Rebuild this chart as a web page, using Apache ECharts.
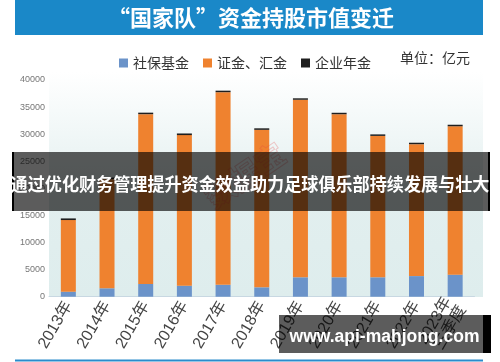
<!DOCTYPE html>
<html><head><meta charset="utf-8">
<script src="https://cdn.jsdelivr.net/npm/echarts@6/dist/echarts.min.js"></script>
<style>html,body{margin:0;padding:0;background:#fff}#c{width:500px;height:362px}</style>
</head><body><div id="c"></div>
<script>
const categories = ['2013年','2014年','2015年','2016年','2017年','2018年','2019年','2020年','2021年','2022年','2023年\n三季度'];
const socialFund = [920, 1550, 2340, 2030, 2200, 1730, 3580, 3580, 3580, 3800, 4060];
const csfHuijin = [13230, 20150, 31350, 27800, 35550, 29070, 32770, 30100, 26100, 24350, 27400];
const annuity = [300, 300, 280, 300, 280, 280, 270, 270, 280, 270, 280];
const yTicks = {min: 0, max: 40000, interval: 5000};
const seriesNames = ['社保基金', '证金、汇金', '企业年金'];

const cjk = '"Noto Sans CJK SC", "Liberation Sans", sans-serif';
const chart = echarts.init(document.getElementById('c'), null, {renderer: 'canvas'});
chart.setOption({
  animation: false,
  backgroundColor: '#ffffff',
  grid: {left: 49, right: 25.5, top: 80, bottom: 65.3, containLabel: false},
  legend: {
    data: seriesNames, left: 114, top: 51, itemWidth: 9, itemHeight: 9, itemGap: 14, icon: 'rect',
    textStyle: {fontSize: 14, color: '#333', fontFamily: cjk}
  },
  xAxis: {
    type: 'category', data: categories,
    axisTick: {show: false},
    axisLine: {lineStyle: {color: '#c8d8e2', width: 1}},
    axisLabel: {interval: 0, rotate: 60, fontSize: 16, color: '#444', margin: 6, lineHeight: 17,
      fontFamily: '"Liberation Sans", "Noto Sans CJK SC", sans-serif'}
  },
  yAxis: {
    type: 'value', min: yTicks.min, max: yTicks.max, interval: yTicks.interval,
    axisLine: {show: false}, axisTick: {show: false}, splitLine: {show: false},
    axisLabel: {fontSize: 9, color: '#777', margin: 4, fontFamily: '"Liberation Sans", sans-serif',
      formatter: function (v) { return String(v); }}
  },
  series: [
    {name: seriesNames[0], type: 'bar', stack: 'a', data: socialFund, barWidth: 15, itemStyle: {color: '#6b93c9'}},
    {name: seriesNames[1], type: 'bar', stack: 'a', data: csfHuijin, barWidth: 15, itemStyle: {color: '#ef822f'}},
    {name: seriesNames[2], type: 'bar', stack: 'a', data: annuity, barWidth: 15, itemStyle: {color: '#1e1e1e'}}
  ],
  graphic: [
    {type: 'rect', z: -5, shape: {x: 49, y: 72, width: 434, height: 225},
      style: {fill: new echarts.graphic.LinearGradient(0, 0, 0, 1, [
        {offset: 0, color: '#ffffff'}, {offset: 0.55, color: '#e2efef'}, {offset: 1, color: '#deeded'}])}},
    {type: 'rect', z: 5, shape: {x: 15, y: 0, width: 468, height: 35}, style: {fill: '#1a88c8'}},
    {type: 'text', z: 6, x: 251, y: 18, style: {text: '“国家队”资金持股市值变迁', fill: '#ffffff',
      font: 'bold 22px ' + cjk, textAlign: 'center', textVerticalAlign: 'middle'}},
    {type: 'text', z: 6, x: 400, y: 58, style: {text: '单位：亿元', fill: '#333',
      font: '14px ' + cjk, textAlign: 'left', textVerticalAlign: 'middle'}},
    {type: 'rect', z: 5, shape: {x: 15, y: 359.5, width: 468, height: 2}, style: {fill: '#2a8ccc'}},
    {type: 'text', z: 20, x: 245, y: 175, rotation: 0.6, style: {text: '数据宝', fill: 'rgba(0,0,0,0)',
      stroke: 'rgba(230,70,70,0.28)', lineWidth: 1, font: 'bold 30px ' + cjk, textAlign: 'center', textVerticalAlign: 'middle'}},
    {type: 'rect', z: 50, shape: {x: 14, y: 152, width: 474, height: 59}, style: {fill: 'rgba(0,0,0,0.64)'}},
    {type: 'rect', z: 50, shape: {x: 12, y: 152, width: 2, height: 59}, style: {fill: '#000'}},
    {type: 'rect', z: 50, shape: {x: 488, y: 152, width: 2, height: 59}, style: {fill: '#000'}},
    {type: 'text', z: 51, x: 250, y: 184, scaleX: 0.95, style: {text: '通过优化财务管理提升资金效益助力足球俱乐部持续发展与壮大',
      fill: '#ffffff', font: 'bold 18px ' + cjk, textAlign: 'center', textVerticalAlign: 'middle'}},
    {type: 'rect', z: 50, shape: {x: 279, y: 315, width: 204, height: 38}, style: {fill: 'rgba(0,0,0,0.64)'}},
    {type: 'rect', z: 50, shape: {x: 483, y: 315, width: 8, height: 38}, style: {fill: '#000'}},
    {type: 'text', z: 51, x: 384.5, y: 337, style: {text: 'www.api-mahjong.com', fill: '#ffffff',
      font: 'bold 17.5px "Liberation Sans", Arial, sans-serif', textAlign: 'center', textVerticalAlign: 'middle'}}
  ]
});
</script></body></html>
